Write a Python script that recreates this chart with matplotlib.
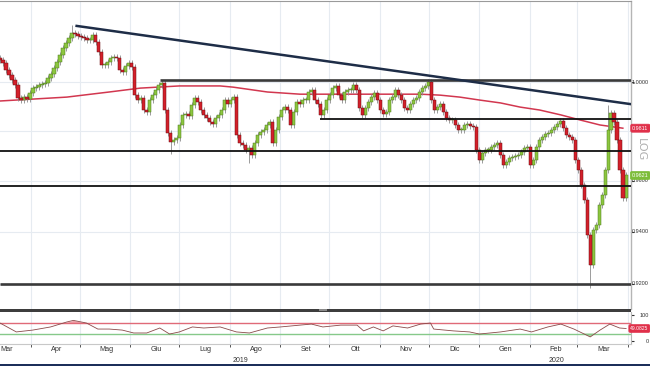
import numpy as np
import pandas as pd
import matplotlib
matplotlib.use('Agg')
import matplotlib.pyplot as plt
import matplotlib.dates as mdates
from matplotlib.ticker import FixedLocator, FuncFormatter, NullLocator
from matplotlib.patches import Rectangle

# ---------------- data ----------------
closes = [
    1.0091, 1.0079, 1.0050, 1.0029, 1.0008, 0.9988, 0.9934, 0.9926, 0.9938, 0.9930,
    0.9955, 0.9975, 0.9979, 0.9988, 0.9992, 0.9996, 1.0017, 1.0033, 1.0058, 1.0083,
    1.0112, 1.0142, 1.0163, 1.0184, 1.0205, 1.0200, 1.0192, 1.0188, 1.0184, 1.0175,
    1.0175, 1.0196, 1.0167, 1.0125, 1.0070, 1.0070, 1.0083, 1.0100, 1.0104, 1.0100,
    1.0050, 1.0042, 1.0066, 1.0079, 1.0062, 0.9946, 0.9926, 0.9934, 0.9885, 0.9877,
    0.9926, 0.9946, 0.9967, 0.9988, 0.9996, 0.9885, 0.9791, 0.9755, 0.9763, 0.9771,
    0.9824, 0.9865, 0.9869, 0.9860, 0.9906, 0.9934, 0.9918, 0.9885, 0.9865, 0.9852,
    0.9836, 0.9828, 0.9852, 0.9865, 0.9885, 0.9926, 0.9910, 0.9926, 0.9938, 0.9783,
    0.9751, 0.9743, 0.9723, 0.9731, 0.9703, 0.9751, 0.9783, 0.9795, 0.9803, 0.9824,
    0.9836, 0.9751, 0.9803, 0.9856, 0.9885, 0.9897, 0.9885, 0.9824, 0.9877, 0.9918,
    0.9910, 0.9926, 0.9926, 0.9959, 0.9967, 0.9926, 0.9910, 0.9865, 0.9885, 0.9926,
    0.9946, 0.9975, 0.9984, 0.9946, 0.9926, 0.9959, 0.9967, 0.9967, 0.9988, 0.9967,
    0.9893, 0.9865, 0.9893, 0.9918, 0.9938, 0.9955, 0.9926, 0.9885, 0.9869, 0.9877,
    0.9926, 0.9938, 0.9967, 0.9946, 0.9926, 0.9893, 0.9885, 0.9910, 0.9926, 0.9934,
    0.9959, 0.9975, 0.9984, 1.0000, 0.9926, 0.9885, 0.9897, 0.9910, 0.9877, 0.9852,
    0.9844, 0.9844, 0.9824, 0.9803, 0.9803, 0.9824, 0.9828, 0.9820, 0.9815, 0.9723,
    0.9683, 0.9711, 0.9723, 0.9723, 0.9735, 0.9743, 0.9751, 0.9703, 0.9663, 0.9675,
    0.9691, 0.9695, 0.9699, 0.9703, 0.9715, 0.9731, 0.9735, 0.9663, 0.9683, 0.9735,
    0.9763, 0.9775, 0.9787, 0.9791, 0.9803, 0.9815, 0.9828, 0.9840, 0.9811, 0.9783,
    0.9775, 0.9763, 0.9683, 0.9643, 0.9583, 0.9524, 0.9387, 0.9271, 0.9406, 0.9426,
    0.9504, 0.9543, 0.9643, 0.9803, 0.9873, 0.9836, 0.9763, 0.9643, 0.9532, 0.9621,
]
first_open = 1.0100
start_date, end_date = '2019-03-13', '2020-03-31'
wick_pad = 0.0012
wick_dates = ['2019-04-26', '2019-06-25', '2019-08-13', '2020-03-09', '2020-03-20']
wick_vals = [1.0238, 0.9705, 0.9671, 0.9185, 0.9905]

ma_dates = ['2019-03-13', '2019-04-23', '2019-05-19', '2019-06-07', '2019-07-01',
            '2019-07-26', '2019-08-03', '2019-08-24', '2019-09-13', '2019-11-26',
            '2019-12-08', '2019-12-20', '2020-01-01', '2020-01-14', '2020-01-26',
            '2020-02-07', '2020-02-20', '2020-03-03', '2020-03-15', '2020-03-29']
ma_vals = [0.9922, 0.9938, 0.9959, 0.9975, 0.9984, 0.9984, 0.9979, 0.9959, 0.9950, 0.9950,
           0.9946, 0.9938, 0.9926, 0.9914, 0.9897, 0.9885, 0.9865, 0.9844, 0.9824, 0.9811]

trend_dates = ['2019-04-29', '2020-04-03']
trend_vals = [1.0235, 0.9909]

level_vals = [1.0010, 0.9848, 0.9719, 0.9579, 0.9198]
level_starts = ['2019-06-19', '2019-09-25', '2019-03-13', '2019-03-13', '2019-03-13']

rsi_dates = ['2019-03-13', '2019-03-23', '2019-04-02', '2019-04-13', '2019-04-23', '2019-04-27',
             '2019-05-05', '2019-05-12', '2019-05-19', '2019-05-27', '2019-06-03', '2019-06-11',
             '2019-06-19', '2019-06-25', '2019-07-01', '2019-07-09', '2019-07-16', '2019-07-26',
             '2019-08-05', '2019-08-13', '2019-08-24', '2019-09-01', '2019-09-13', '2019-09-20',
             '2019-09-27', '2019-10-08', '2019-10-18', '2019-10-22', '2019-10-28', '2019-11-03',
             '2019-11-09', '2019-11-18', '2019-11-26', '2019-12-02', '2019-12-04', '2019-12-16',
             '2019-12-26', '2020-01-01', '2020-01-14', '2020-01-26', '2020-02-02', '2020-02-12',
             '2020-02-20', '2020-02-28', '2020-03-09', '2020-03-15', '2020-03-21', '2020-03-27',
             '2020-03-31']
rsi_vals = [70, 36, 43, 55, 74, 80, 70, 47, 47, 43, 32, 32, 51, 28, 36, 55, 51, 55,
            36, 32, 51, 55, 62, 66, 55, 62, 62, 40, 55, 40, 59, 51, 66, 70, 47, 40,
            36, 28, 36, 47, 36, 55, 66, 47, 17, 43, 66, 51, 49.0825]

month_names = ['Gen', 'Feb', 'Mar', 'Apr', 'Mag', 'Giu', 'Lug', 'Ago', 'Set', 'Ott', 'Nov', 'Dic']
price_ticks = [0.92, 0.94, 0.96, 1.00]
rsi_ticks = [0, 100]
ma_label, last_label, rsi_label = '0.9811', '0.9621', '49.0825'

# ---------------- figure ----------------
W, H = 650, 366
fig = plt.figure(figsize=(W / 100, H / 100), dpi=100)
fig.patch.set_facecolor('white')

def fx(px):
    return px / W

def fy(py):
    return 1 - py / H

xl = (mdates.date2num(pd.Timestamp('2019-03-13')), mdates.date2num(pd.Timestamp('2020-04-03')))
grid_c = '#e6ebf1'
narrow = ['Liberation Sans Narrow', 'Liberation Sans', 'DejaVu Sans']
lab_font = ['Liberation Sans', 'DejaVu Sans']
RX = fx(648.5)   # right-aligned anchor for right-side labels

ax = fig.add_axes([0, fy(309), fx(631), fy(1) - fy(309)])
ax.set_yscale('log')
ax.set_xlim(*xl)
ax.set_ylim(0.9104, 1.0341)

dates = pd.date_range(start_date, end_date, periods=len(closes))
dn = mdates.date2num(dates)
c = np.array(closes)
o = np.array([first_open] + closes[:-1])
hi = np.maximum(o, c) + wick_pad
lo = np.minimum(o, c) - wick_pad
for d, v in zip(wick_dates, wick_vals):
    i = int(np.argmin(np.abs(dn - mdates.date2num(pd.Timestamp(d)))))
    if v > max(o[i], c[i]):
        hi[i] = v
    else:
        lo[i] = v

# grid
for m in pd.date_range('2019-04-01', '2020-04-01', freq='MS'):
    ax.axvline(mdates.date2num(m), color=grid_c, lw=0.8, zorder=0)
for t in [0.92, 0.94, 0.96, 0.98, 1.0]:
    ax.axhline(t, color=grid_c, lw=0.8, zorder=0)

# MA
ax.plot(mdates.date2num(pd.to_datetime(ma_dates)), ma_vals, color='#d2374f', lw=1.1, zorder=2)

# candles
up = c >= o
ax.vlines(dn, lo, hi, color='#8c8c8c', lw=0.6, zorder=3)
bw = 2.0
ax.bar(dn[up], np.maximum(c[up] - o[up], 0.0004), bottom=o[up], width=bw,
       color='#8cc63f', edgecolor='#4d7a1e', lw=0.35, zorder=4)
ax.bar(dn[~up], np.maximum(o[~up] - c[~up], 0.0004), bottom=c[~up], width=bw,
       color='#d3202a', edgecolor='#6e0d12', lw=0.35, zorder=4)

# levels
for v, s in zip(level_vals, level_starts):
    thick = v in (1.0010, 0.9198)
    ax.hlines(v, mdates.date2num(pd.Timestamp(s)), xl[1],
              color='#3a3a3a' if thick else '#111111', lw=1.9 if thick else 1.3, zorder=5)

# trend line
ax.plot(mdates.date2num(pd.to_datetime(trend_dates)), trend_vals, color='#1e2d47', lw=1.8, zorder=5)

# axis styling
ax.yaxis.tick_right()
ax.yaxis.set_major_locator(FixedLocator(price_ticks))
ax.yaxis.set_minor_locator(NullLocator())
ax.tick_params(axis='y', which='major', length=2, width=0.8, labelright=False,
               colors='#333333', direction='out')
ax.tick_params(axis='x', which='both', length=0, labelbottom=False)
for s in ['left', 'bottom']:
    ax.spines[s].set_visible(False)
ax.spines['top'].set_color('#9a9a9a')
ax.spines['right'].set_color('#b5b5b5')
ax.spines['right'].set_linewidth(1.0)

def right_label(axis, val, text, size=4.0, color='#333333', box=None):
    kw = dict(xy=(RX, val), xycoords=('figure fraction', 'data'), ha='right', va='center',
              fontsize=size, color=color, annotation_clip=False, zorder=10, family=lab_font)
    if box is not None:
        kw['bbox'] = dict(boxstyle='round,pad=0.28', fc=box, ec=box, lw=0.5)
    axis.annotate(text, **kw)

for t in price_ticks:
    right_label(ax, t, f'{t:.4f}')
right_label(ax, 0.9811, ma_label, size=3.9, color='white', box='#e0304a')
right_label(ax, 0.9621, last_label, size=3.9, color='white', box='#7dbd3a')
fig.text(fx(641), fy(150), 'LOG', rotation=-90, ha='center', va='center',
         fontsize=8, color='#b0b0b0')

# separator between panels
fig.add_artist(Rectangle((0, fy(311.5)), fx(631), 3 / H, transform=fig.transFigure,
                         color='#3d3d3d', lw=0))
fig.add_artist(Rectangle((fx(319), fy(311)), fx(8), 2 / H, transform=fig.transFigure,
                         color='#8a8a8a', lw=0))

# ---------------- RSI panel ----------------
ax2 = fig.add_axes([0, fy(344), fx(631), fy(312) - fy(344)])
ax2.set_xlim(*xl)
ax2.set_ylim(-10, 112)
rd = mdates.date2num(pd.to_datetime(rsi_dates))
rv = np.array(rsi_vals, dtype=float)
for m in pd.date_range('2019-04-01', '2020-04-01', freq='MS'):
    ax2.axvline(mdates.date2num(m), color=grid_c, lw=0.8, zorder=0)
ax2.axhline(70, color='#e06a78', lw=1.0, zorder=2)
ax2.axhline(30, color='#86c98a', lw=1.0, zorder=2)
ax2.fill_between(rd, rv, 70, where=rv > 70, interpolate=True, color='#f0a0a8', lw=0, zorder=1)
ax2.fill_between(rd, rv, 30, where=rv < 30, interpolate=True, color='#a8d8a0', lw=0, zorder=1)
ax2.plot(rd, rv, color='#8a4a4a', lw=0.6, zorder=3)

ax2.yaxis.tick_right()
ax2.yaxis.set_major_locator(FixedLocator(rsi_ticks))
ax2.tick_params(axis='y', length=2, width=0.8, labelright=False, colors='#333333')
for t in rsi_ticks:
    right_label(ax2, t, f'{t:.0f}')
right_label(ax2, 49.0825, rsi_label, size=3.6, color='white', box='#e0304a')

ax2.xaxis.set_major_locator(mdates.MonthLocator())
ax2.xaxis.set_major_formatter(FuncFormatter(lambda v, p: ''))
ax2.xaxis.set_minor_locator(mdates.MonthLocator(bymonthday=17))
ax2.xaxis.set_minor_formatter(FuncFormatter(lambda v, p: month_names[mdates.num2date(v).month - 1]))
ax2.tick_params(axis='x', which='major', length=2.5, width=0.7, color='#555555', direction='out')
ax2.tick_params(axis='x', which='minor', length=0, pad=1.5, labelsize=5.2, labelcolor='#333333')
for lab in ax2.xaxis.get_minorticklabels():
    lab.set_family(narrow)
for s in ['left', 'top']:
    ax2.spines[s].set_visible(False)
ax2.spines['right'].set_color('#b5b5b5')
ax2.spines['bottom'].set_color('#c8c8c8')

fig.text(fx(240), fy(360.5), '2019', ha='center', va='center', fontsize=5.0,
         color='#333333', family=narrow)
fig.text(fx(556), fy(360.5), '2020', ha='center', va='center', fontsize=5.0,
         color='#333333', family=narrow)

# bottom band
fig.add_artist(Rectangle((0, 0), 1, 2.0 / H, transform=fig.transFigure, color='#1c2f5a', lw=0))

fig.savefig('out.png', dpi=100, facecolor='white')
